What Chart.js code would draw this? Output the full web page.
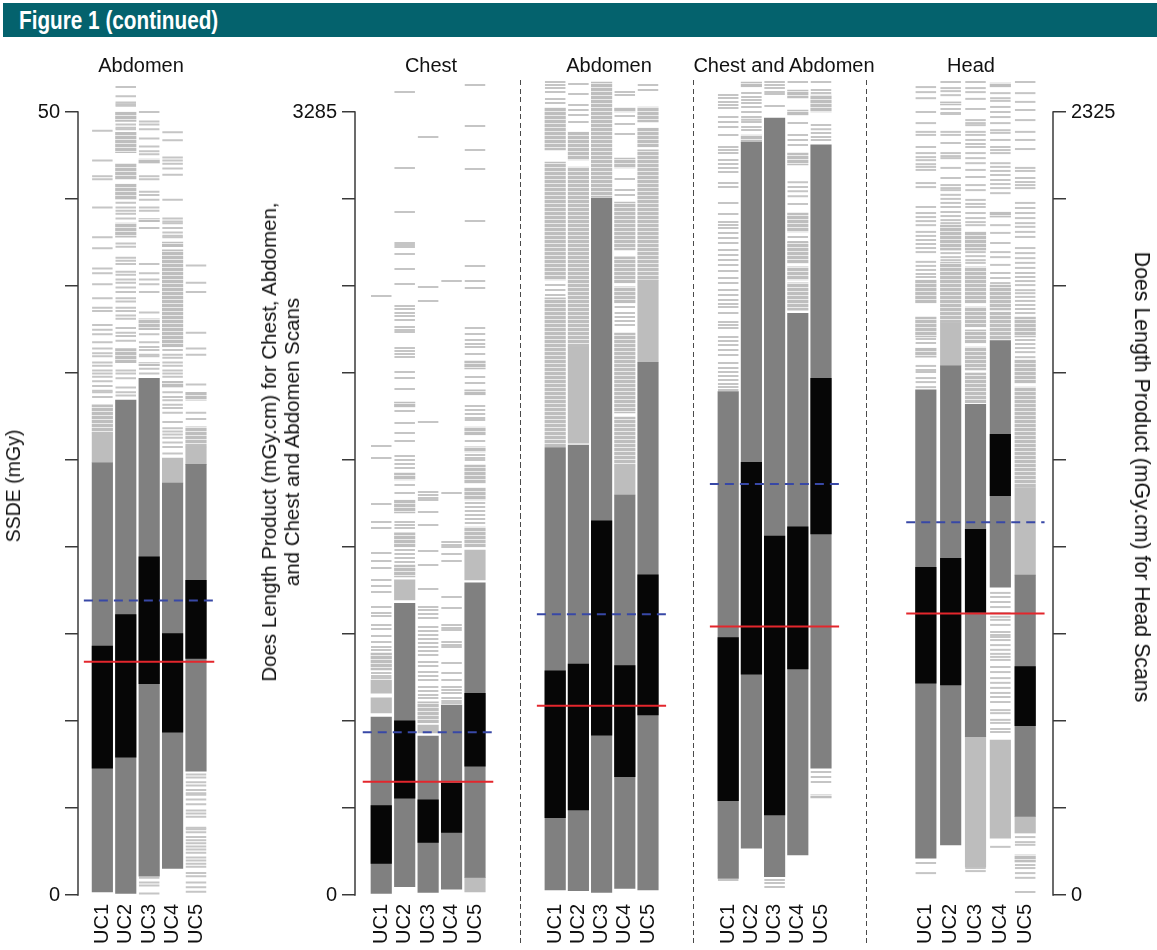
<!DOCTYPE html>
<html>
<head>
<meta charset="utf-8">
<title>Figure 1 (continued)</title>
<script src="https://cdn.jsdelivr.net/npm/chart.js@4.4.1/dist/chart.umd.min.js"></script>
<style>
  html, body { margin: 0; padding: 0; }
  body { width: 1157px; height: 950px; position: relative; overflow: hidden; background: #fff;
         font-family: "Liberation Sans", Arial, Helvetica, sans-serif; color: #111; }
  .banner { position: absolute; left: 3px; top: 3px; width: 1154px; height: 34px; background: #04626d; }
  #fig { position: absolute; left: 19px; top: 8px; line-height: 25px; font-size: 25px; font-weight: bold;
         font-family: "Liberation Sans Narrow", "Liberation Sans", Arial, sans-serif; color: #fff;
         white-space: nowrap; transform-origin: 0 50%; }
  .ptitle { position: absolute; top: 55px; line-height: 20px; font-size: 20px; white-space: nowrap;
            transform: translateX(-50%); }
  .sep { position: absolute; top: 80px; height: 865px; width: 1.5px;
         background: repeating-linear-gradient(to bottom, #4a4a4a 0 5px, transparent 5px 8.5px); }
  .ytitle { position: absolute; white-space: nowrap; text-align: center; }
  canvas { position: absolute; }
</style>
</head>
<body>
<div class="banner"></div>
<div id="fig">Figure 1 (continued)</div>

<script>
// ---------- categories and axis labels ----------
const ucLabels = ['UC1', 'UC2', 'UC3', 'UC4', 'UC5'];
const panelTitles = ['Abdomen', 'Chest', 'Abdomen', 'Chest and Abdomen', 'Head'];
const ssdeAxisEnds = [0, 50];
const dlpAxisEnds = [0, 3285];
const headAxisEnds = [0, 2325];
const axisDivisions = 9;
const ssdeTitle = 'SSDE (mGy)';
const dlpTitleLines = ['Does Length Product (mGy.cm) for Chest, Abdomen,', 'and Chest and Abdomen Scans'];
const headTitle = 'Does Length Product (mGy.cm) for Head Scans';

// Each column: range = outer grey box, iqr = black box, shades = solid light runs,
// bands = tight clusters of scans, ticks = single scans.

// ---------- SSDE, abdomen (mGy) ----------
const ssdeAbdRange = [[0.2, 27.6], [0.1, 31.6], [1.2, 33.0], [1.7, 26.3], [7.9, 27.5]];
const ssdeAbdIqr = [[8.1, 15.9], [8.8, 17.9], [13.5, 21.6], [10.4, 16.7], [15.1, 20.1]];
const ssdeAbdShades = [[[27.6, 29.5]], [], [], [[26.3, 27.9]], [[27.5, 28.6]]];
const ssdeAbdBands = [
  [[29.5, 31.3]],
  [[49.4, 50.0], [47.4, 48.7], [45.7, 46.7], [44.4, 45.4], [42.0, 42.9], [34.0, 34.9]],
  [[46.7, 47.0], [43.0, 43.2], [36.1, 36.8], [33.8, 34.0]],
  [[41.4, 41.7], [35.0, 41.2], [32.4, 32.8]],
  [[31.6, 32.1], [28.6, 29.9]]
];
const ssdeAbdTicks = [
  [48.8, 46.9, 45.9, 45.7, 43.9, 42.0, 41.3, 40.0, 39.7, 39.0, 38.1, 37.5, 37.3, 36.4, 36.1, 35.8, 35.3,
   34.9, 34.6, 34.4, 34.0, 33.8, 33.5, 33.3, 33.1, 32.8, 32.5, 32.2, 32.1, 31.8],
  [51.6, 51.0, 50.6, 50.5, 50.4, 49.2, 49.0, 48.9, 44.2, 43.9, 43.7, 43.5, 43.2, 41.6, 41.4, 40.7, 40.5,
   40.3, 39.8, 39.6, 39.3, 39.1, 38.8, 38.5, 38.1, 37.9, 37.5, 37.3, 37.0, 36.8, 36.2, 35.9, 35.7, 35.4,
   33.5, 33.3, 33.0, 32.4, 32.1, 31.9],
  [50.0, 49.4, 49.2, 48.9, 48.3, 47.8, 47.5, 47.3, 45.9, 45.7, 44.9, 44.7, 44.4, 43.9, 43.7, 42.6, 40.3,
   39.7, 39.3, 39.0, 38.5, 37.2, 35.8, 35.3, 35.0, 34.8, 34.5, 34.4, 33.6, 33.3, 1.1, 0.8, 0.6, 0.1],
  [48.7, 48.2, 47.1, 46.9, 46.7, 46.4, 46.0, 44.4, 43.2, 43.0, 42.9, 42.6, 42.3, 42.1, 42.0, 34.8, 34.5,
   34.3, 34.0, 33.8, 33.5, 33.3, 33.1, 32.1, 31.8, 31.6, 31.3, 31.1, 30.8, 30.2, 29.8, 29.6, 29.4, 29.2,
   28.9, 28.6, 28.2],
  [40.2, 39.1, 38.5, 35.9, 34.9, 34.5, 32.6, 30.8, 30.4, 7.7, 7.5, 7.2, 7.0, 6.7, 6.5, 6.4, 6.1, 5.8, 5.4,
   5.2, 5.0, 4.3, 4.2, 4.0, 3.7, 3.5, 3.3, 3.1, 2.9, 2.7, 2.4, 2.2, 2.0, 1.8, 1.4, 1.2, 0.8, 0.5, 0.2]
];
const ssdeAbdMedian = 14.9;
const ssdeAbdRef = 18.8;

// ---------- DLP, chest (mGy.cm) ----------
const dlpChestRange = [[7, 746], [35, 1224], [11, 667], [24, 797], [74, 1310]];
const dlpChestIqr = [[133, 375], [406, 731], [221, 399], [263, 469], [541, 846]];
const dlpChestShades = [[[764, 827], [847, 902]], [[1238, 1322]], [[680, 713]], [], [[1322, 1447], [13, 74]]];
const dlpChestBands = [
  [[944, 1015]],
  [[2047, 2068], [1741, 1770], [1603, 1657], [1460, 1519], [1334, 1384]],
  [[722, 810]],
  [],
  [[2207, 2240], [2098, 2119], [1930, 1963], [1859, 1880], [1728, 1804], [1657, 1708], [1460, 1544]]
];
const dlpChestTicks = [
  [2513, 1884, 1833, 1640, 1565, 1540, 1435, 1401, 1372, 1322, 1296, 1271, 1208, 1183, 1171, 1133, 1116,
   1087, 1061, 1040, 1028, 931, 919, 910],
  [3369, 3050, 2865, 2735, 2727, 2719, 2689, 2626, 2563, 2471, 2459, 2442, 2429, 2412, 2383, 2370, 2362,
   2295, 2282, 2270, 2257, 2194, 2169, 2123, 2031, 1980, 1938, 1905, 1842, 1825, 1808, 1791, 1720, 1687,
   1565, 1552, 1540, 1447, 1431, 1414, 1397],
  [3180, 2551, 2492, 1984, 1691, 1678, 1666, 1657, 1607, 1552, 1443, 1384, 1284, 1208, 1196, 1179, 1162,
   1124, 1108, 1091, 1074, 1057, 1040, 1024, 1007, 978, 961, 936, 919, 902, 873, 856, 839, 827],
  [2576, 1687, 1481, 1468, 1460, 1431, 1401, 1250, 1204, 1133, 1120, 1112, 1061, 1049, 1040, 973, 931,
   902, 873, 860, 847, 827, 814, 805],
  [3398, 3226, 3126, 3046, 2828, 2639, 2576, 2547, 2379, 2354, 2328, 2312, 2299, 2270, 2173, 2148, 2052,
   2035, 2018, 2001, 1993, 1905, 1846, 1833, 1825, 1645, 1628, 1611, 1594, 1577, 1561]
];
const dlpChestMedian = 475;
const dlpChestRef = 683;

// ---------- DLP, abdomen (mGy.cm) ----------
const dlpAbdRange = [[21, 1877], [18, 1888], [11, 2923], [28, 1678], [21, 2235]];
const dlpAbdIqr = [[324, 940], [357, 969], [671, 1570], [496, 962], [755, 1343]];
const dlpAbdShades = [[], [[1896, 2300]], [], [[1678, 1800]], [[2236, 2580]]];
const dlpAbdBands = [
  [[3126, 3302], [2580, 3075], [1880, 2505]],
  [[3084, 3201], [2300, 3054]],
  [[2927, 3411]],
  [[3285, 3302], [3050, 3092], [2706, 2907], [2568, 2677], [2484, 2551], [2022, 2358], [1800, 2005]],
  [[3243, 3306], [3138, 3218], [2580, 3126]]
];
const dlpAbdTicks = [
  [3411, 3398, 3386, 3369, 3340, 3323, 2559, 2538, 2517],
  [3402, 3361, 3314, 3293, 3272, 3243],
  [],
  [3369, 3356, 3268, 3235, 3193, 3004, 2958, 2937, 2467, 2442, 2425, 2408, 2391],
  [3398, 3377]
];
const dlpAbdMedian = 794;
const dlpAbdRef = 1178;

// ---------- DLP, chest and abdomen (mGy.cm) ----------
const dlpChestAbdRange = [[70, 2112], [196, 3158], [77, 3259], [168, 2440], [532, 3147]];
const dlpChestAbdIqr = [[396, 1080], [926, 1815], [336, 1506], [948, 1545], [1515, 2168]];
const dlpChestAbdShades = [[], [], [], [], []];
const dlpChestAbdBands = [
  [],
  [[3390, 3411], [3158, 3188]],
  [],
  [[3344, 3377], [3272, 3293], [3063, 3113], [2782, 2861], [2651, 2740], [2580, 2635], [2454, 2568]],
  [[3285, 3356], [407, 420]]
];
const dlpChestAbdTicks = [
  [3356, 3344, 3327, 3314, 3302, 3264, 3243, 3222, 3188, 3138, 3126, 3113, 3084, 3067, 3050, 3033, 2987,
   2970, 2903, 2857, 2824, 2811, 2798, 2777, 2756, 2735, 2706, 2685, 2664, 2643, 2618, 2589, 2568, 2538,
   2517, 2496, 2479, 2467, 2442, 2404, 2391, 2379, 2341, 2324, 2307, 2287, 2265, 2232, 2211, 2194, 2177,
   2161, 2144, 2131, 2119, 63],
  [3365, 3348, 3335, 3323, 3306, 3285, 3264, 3252, 3243, 3222, 3209],
  [3411, 3398, 3386, 3369, 3361, 3310, 63, 50, 34],
  [3411, 3239, 3188, 3168, 3147, 2990, 2970, 2953, 2932, 2899, 2845, 2761, 2740],
  [3411, 3377, 3365, 3230, 3213, 3197, 3180, 3168, 516, 495, 474]
];
const dlpChestAbdMedian = 1126;
const dlpChestAbdRef = 1724;

// ---------- DLP, head (mGy.cm) ----------
const dlpHeadRange = [[109, 1500], [149, 1571], [470, 1457], [914, 1646], [233, 950]];
const dlpHeadIqr = [[629, 973], [624, 1000], [839, 1086], [1186, 1368], [503, 678]];
const dlpHeadShades = [[], [[1571, 1700]], [[83, 470]], [[169, 460]], [[950, 1210], [184, 233]]];
const dlpHeadBands = [
  [[1758, 1826], [1657, 1716], [1597, 1624]],
  [[2346, 2355], [1915, 1989], [1700, 1877]],
  [[1915, 1969], [1758, 1865], [1687, 1746], [1639, 1678], [1559, 1627], [1461, 1550]],
  [[2399, 2411], [2013, 2028], [1737, 1811], [1648, 1731]],
  [[1657, 1716], [1520, 1589], [1210, 1508], [98, 119]]
];
const dlpHeadTicks = [
  [2399, 2384, 2366, 2325, 2292, 2266, 2257, 2221, 2203, 2191, 2182, 2170, 2162, 2153, 2114, 2102, 2043,
   2025, 2013, 2001, 1989, 1969, 1957, 1945, 1933, 1921, 1909, 1880, 1868, 1856, 1844, 1835, 1651, 1639,
   1571, 1559, 1553, 1535, 1523, 1508, 95, 65],
  [2414, 2396, 2387, 2375, 2334, 2322, 2319, 2266, 2257, 2233, 2203, 2194, 2188, 2159, 2129, 2108, 2099,
   2093, 2079, 2067, 2055, 2043, 2028, 2016, 2004, 1995, 1906, 1894, 1885, 1877],
  [2414, 2396, 2384, 2364, 2334, 2301, 2292, 2286, 2266, 2257, 2242, 2230, 2221, 2203, 2188, 2173, 2153,
   2132, 2108, 2093, 2064, 2052, 2043, 2025, 2010, 1998, 1989, 1909, 1897, 1885, 1877, 80, 71],
  [2381, 2366, 2358, 2340, 2325, 2310, 2292, 2271, 2263, 2242, 2221, 2212, 2203, 2173, 2162, 2150, 2138,
   2123, 2111, 2099, 2084, 1989, 1966, 1936, 1909, 1894, 1871, 1847, 1832, 1817, 897, 885, 870, 855, 837,
   826, 817, 802, 781, 772, 766, 757, 742, 728, 716, 707, 698, 677, 662, 644, 630, 615, 600, 588, 573, 549,
   540, 520, 511, 493, 484, 143],
  [2414, 2381, 2355, 2331, 2301, 2266, 2242, 2215, 2159, 2150, 2129, 2117, 2108, 2099, 2055, 2040, 2025,
   2010, 1995, 1984, 1969, 1954, 1921, 1906, 1891, 1877, 1862, 1847, 1835, 1823, 1811, 1796, 1787, 1776,
   1764, 1752, 1740, 1728, 1648, 1636, 1624, 1612, 1597, 172, 157, 149, 89, 80, 65, 51, 9]
];
const dlpHeadMedian = 836;
const dlpHeadRef = 1107;

// ---------- page layout and styling ----------
const CANVAS_TOP = 44, CANVAS_H = 906;
const PLOT_TOP = 78, AXIS_TOP = 112, PLOT_BOTTOM = 895;
const LINE_FROM = -0.79, LINE_TO = 4.78;
const COLORS = {
  range: '#808080', iqr: '#060606', shade: '#bdbdbd', band: '#bebebe', bandGap: '#eaeaea',
  obs: '#c5c5c5', median: '#e3262c', ref: '#3848a6', axis: '#3a3a3a', text: '#111111'
};
const FONT = { family: '"Liberation Sans", Arial, Helvetica, sans-serif', size: 20 };

// clusters of scans render as closely packed strokes
function stripeFill() {
  const c = document.createElement('canvas');
  c.width = 1; c.height = 4;
  const g = c.getContext('2d');
  g.fillStyle = COLORS.band; g.fillRect(0, 0, 1, 3);
  g.fillStyle = COLORS.bandGap; g.fillRect(0, 3, 1, 1);
  return g.createPattern(c, 'repeat');
}

// the value axis is drawn only over its labelled range, as a range frame
const rangeFrame = {
  id: 'rangeFrame',
  afterDraw(chart, args, opts) {
    const s = chart.scales.y;
    if (!opts.show) return;
    const ctx = chart.ctx;
    const x = s.position === 'right' ? s.left : s.right;
    ctx.save();
    ctx.strokeStyle = COLORS.axis;
    ctx.lineWidth = 1.5;
    ctx.beginPath();
    ctx.moveTo(x, s.getPixelForValue(opts.ends[0]) + 0.75);
    ctx.lineTo(x, s.getPixelForValue(opts.ends[1]) - 0.75);
    ctx.stroke();
    ctx.restore();
  }
};

const obsPoints = (lists) => lists.flatMap((vals, i) => vals.map(v => ({ x: i, y: v })));
const spans = (pairs) => pairs.map((p, i) => ({ x: i, y: p }));
const spanLists = (lists) => lists.flatMap((list, i) => list.map(p => ({ x: i, y: p })));

function makePanel(p) {
  const cv = document.createElement('canvas');
  cv.width = p.width;
  cv.height = CANVAS_H;
  cv.style.left = p.left + 'px';
  cv.style.top = CANVAS_TOP + 'px';
  cv.style.width = p.width + 'px';
  cv.style.height = CANVAS_H + 'px';
  document.body.appendChild(cv);

  const axisTop = p.axisEnds[1];
  const yMax = axisTop * (PLOT_BOTTOM - PLOT_TOP) / (PLOT_BOTTOM - AXIS_TOP);

  return new Chart(cv, {
    type: 'bar',
    data: {
      datasets: [
        { type: 'line', label: 'median', data: [{ x: LINE_FROM, y: p.median }, { x: LINE_TO, y: p.median }],
          borderColor: COLORS.median, borderWidth: 2, pointRadius: 0, order: 0 },
        { type: 'line', label: 'reference', data: [{ x: LINE_FROM, y: p.ref }, { x: LINE_TO, y: p.ref }],
          borderColor: COLORS.ref, borderWidth: 2, borderDash: [9, 6], pointRadius: 0, order: 0 },
        { label: 'interquartile', data: spans(p.iqr), backgroundColor: COLORS.iqr, order: 1 },
        { label: 'range', data: spans(p.range), backgroundColor: COLORS.range, order: 2 },
        { label: 'light', data: spanLists(p.shades), backgroundColor: COLORS.shade, order: 3 },
        { label: 'clusters', data: spanLists(p.bands), backgroundColor: stripeFill(), order: 3 },
        { type: 'line', label: 'scans', data: obsPoints(p.ticks), showLine: false, pointStyle: 'line',
          pointRadius: 10.25, pointBorderWidth: 2, pointBorderColor: COLORS.obs, borderColor: COLORS.obs, order: 4 }
      ]
    },
    options: {
      responsive: false,
      animation: false,
      events: [],
      layout: { autoPadding: false, padding: { top: PLOT_TOP - CANVAS_TOP, left: 0, right: 0, bottom: 0 } },
      datasets: { bar: { grouped: false, barThickness: 20.5, borderWidth: 0 } },
      plugins: {
        legend: { display: false },
        tooltip: { enabled: false },
        rangeFrame: { show: p.axis !== false, ends: p.axisEnds }
      },
      scales: {
        x: {
          type: 'linear', min: p.xMin, max: p.xMax, offset: false,
          afterBuildTicks: s => { s.ticks = ucLabels.map((_, i) => ({ value: i })); },
          afterFit: s => { s.height = CANVAS_TOP + CANVAS_H - PLOT_BOTTOM; },
          grid: { display: false, drawTicks: false },
          border: { display: false },
          ticks: { autoSkip: false, minRotation: 90, maxRotation: 90, padding: 9, font: FONT,
                   color: COLORS.text, callback: v => ucLabels[v] }
        },
        y: {
          type: 'linear', min: 0, max: yMax,
          display: p.axis !== false,
          position: p.axis === 'right' ? 'right' : 'left',
          afterBuildTicks: s => {
            const ticks = [];
            for (let k = 0; k <= axisDivisions; k++) ticks.push({ value: axisTop * k / axisDivisions });
            s.ticks = ticks;
          },
          afterFit: s => { if (p.yWidth) s.width = p.yWidth; },
          grid: { display: true, drawOnChartArea: false, drawTicks: true, tickLength: 13,
                  color: COLORS.axis, lineWidth: 1.5 },
          border: { display: false },
          ticks: { padding: 5, font: FONT, color: COLORS.text,
                   callback: (v, k) => (k === 0 ? String(p.axisEnds[0]) : k === axisDivisions ? String(axisTop) : '') }
        }
      }
    },
    plugins: [rangeFrame]
  });
}

makePanel({ left: 0, width: 229, yWidth: 78, axis: 'left', xMin: -1.04, xMax: 5,
  axisEnds: ssdeAxisEnds, ticks: ssdeAbdTicks, bands: ssdeAbdBands, shades: ssdeAbdShades,
  range: ssdeAbdRange, iqr: ssdeAbdIqr, median: ssdeAbdMedian, ref: ssdeAbdRef });
makePanel({ left: 250, width: 258, yWidth: 105, axis: 'left', xMin: -1.12, xMax: 5,
  axisEnds: dlpAxisEnds, ticks: dlpChestTicks, bands: dlpChestBands, shades: dlpChestShades,
  range: dlpChestRange, iqr: dlpChestIqr, median: dlpChestMedian, ref: dlpChestRef });
makePanel({ left: 532, width: 149, axis: false, xMin: -1, xMax: 5,
  axisEnds: dlpAxisEnds, ticks: dlpAbdTicks, bands: dlpAbdBands, shades: dlpAbdShades,
  range: dlpAbdRange, iqr: dlpAbdIqr, median: dlpAbdMedian, ref: dlpAbdRef });
makePanel({ left: 705, width: 149, axis: false, xMin: -1, xMax: 5,
  axisEnds: dlpAxisEnds, ticks: dlpChestAbdTicks, bands: dlpChestAbdBands, shades: dlpChestAbdShades,
  range: dlpChestAbdRange, iqr: dlpChestAbdIqr, median: dlpChestAbdMedian, ref: dlpChestAbdRef });
makePanel({ left: 901, width: 252, yWidth: 100, axis: 'right', xMin: -1, xMax: 5.12,
  axisEnds: headAxisEnds, ticks: dlpHeadTicks, bands: dlpHeadBands, shades: dlpHeadShades,
  range: dlpHeadRange, iqr: dlpHeadIqr, median: dlpHeadMedian, ref: dlpHeadRef });

// ---------- titles, axis titles and panel separators ----------
const titleCentres = [141, 431, 609, 784, 971];
panelTitles.forEach((t, i) => {
  const d = document.createElement('div');
  d.className = 'ptitle';
  d.style.left = titleCentres[i] + 'px';
  d.textContent = t;
  document.body.appendChild(d);
});

[519.5, 692.5, 865.5].forEach(x => {
  const d = document.createElement('div');
  d.className = 'sep';
  d.style.left = x + 'px';
  document.body.appendChild(d);
});

function axisTitle(lines, cx, cy, deg, size, lh) {
  const d = document.createElement('div');
  d.className = 'ytitle';
  d.style.fontSize = size + 'px';
  d.style.lineHeight = lh + 'px';
  d.innerHTML = lines.map(l => l.replace(/&/g, '&amp;')).join('<br>');
  document.body.appendChild(d);
  d.style.left = cx + 'px';
  d.style.top = cy + 'px';
  d.style.transform = `translate(-50%, -50%) rotate(${deg}deg)`;
}
axisTitle([ssdeTitle], 13, 486, -90, 19.5, 22);
axisTitle(dlpTitleLines, 280, 442, -90, 20.5, 23);
axisTitle([headTitle], 1142, 477, 90, 21.3, 24);

// banner text squeezed to a condensed width
const fig = document.getElementById('fig');
fig.style.transform = `scaleX(${199 / fig.offsetWidth})`;
</script>
</body>
</html>
